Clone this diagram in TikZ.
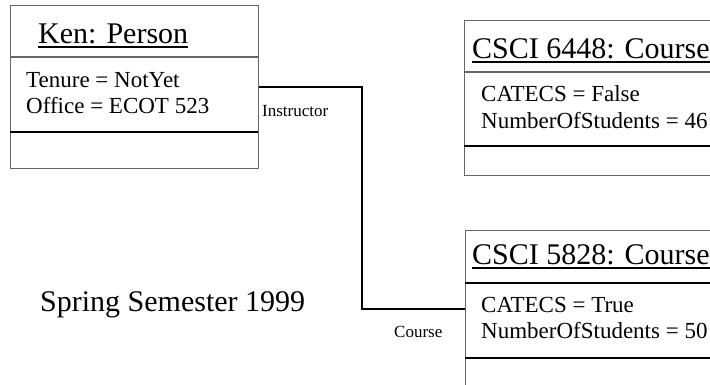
\documentclass[tikz,border=0pt]{standalone}
\usepackage{fontspec}
\setmainfont{Liberation Serif}
\usetikzlibrary{calc}
\begin{document}
\begin{tikzpicture}[x=1pt,y=-1pt,
  objbox/.style={draw=black!60, line width=1.2pt, rectangle, inner sep=0pt, anchor=north west},
  thinrule/.style={draw=black!60, line width=1.2pt},
  thickrule/.style={draw=black, line width=2.2pt},
  conn/.style={draw=black, line width=2.2pt},
  uline/.style={draw=black, line width=1.5pt},
  title/.style={font=\fontsize{30}{36}\selectfont, anchor=base west, inner sep=0pt},
  attr/.style={font=\fontsize{23}{26}\selectfont, anchor=base west, inner sep=0pt},
  role/.style={font=\fontsize{17}{20}\selectfont, anchor=base west, inner sep=0pt},
]
\useasboundingbox (0,0) rectangle (710,384);
\clip (0,0) rectangle (710,384);

% object boxes
\node[objbox, minimum width=248pt, minimum height=163pt] (ken) at (10,5) {};
\node[objbox, minimum width=260pt, minimum height=155pt] (c6448) at (464,20) {};
\node[objbox, minimum width=260pt, minimum height=156pt] (c5828) at (465,230) {};

% compartment rules
\draw[thinrule] (10,57) -- (258,57);
\draw[thickrule] (10,132) -- (258,132);
\draw[thinrule] (464,72) -- (724,72);
\draw[thickrule] (464,146) -- (724,146);
\draw[thickrule] (465,283) -- (725,283);
\draw[thickrule] (465,358) -- (725,358);

% Ken: Person
\node[title] (kent) at (38,43) {Ken: Person};
\draw[uline] ($(kent.base west)+(0,4)$) -- ($(kent.base east)+(0,4)$);
\node[attr] (kena) at (26,87) {Tenure = NotYet};
\node[attr] (kenb) at (26,113) {Office = ECOT 523};

% CSCI 6448: Course
\node[title] (c6448t) at (472,58) {CSCI 6448: Course};
\draw[uline] ($(c6448t.base west)+(0,3.8)$) -- ($(c6448t.base east)+(0,3.8)$);
\node[attr] (c6448a) at (481,101) {CATECS = False};
\node[attr] (c6448b) at (481,128) {NumberOfStudents = 46};

% CSCI 5828: Course
\node[title] (c5828t) at (472,264) {CSCI 5828: Course};
\draw[uline] ($(c5828t.base west)+(0,3.8)$) -- ($(c5828t.base east)+(0,3.8)$);
\node[attr] (c5828a) at (481,312) {CATECS = True};
\node[attr] (c5828b) at (481,338) {NumberOfStudents = 50};

% link between Ken and CSCI 5828
\coordinate (bend) at (362,0);
\draw[conn] (ken.east) -- (ken.east -| bend) |- (c5828.west);
\node[role] (instr) at (262,116) {Instructor};
\node[role] (crs) at (394,337) {Course};

% caption
\node[title] (sem) at (40,311) {Spring Semester 1999};
\end{tikzpicture}
\end{document}
